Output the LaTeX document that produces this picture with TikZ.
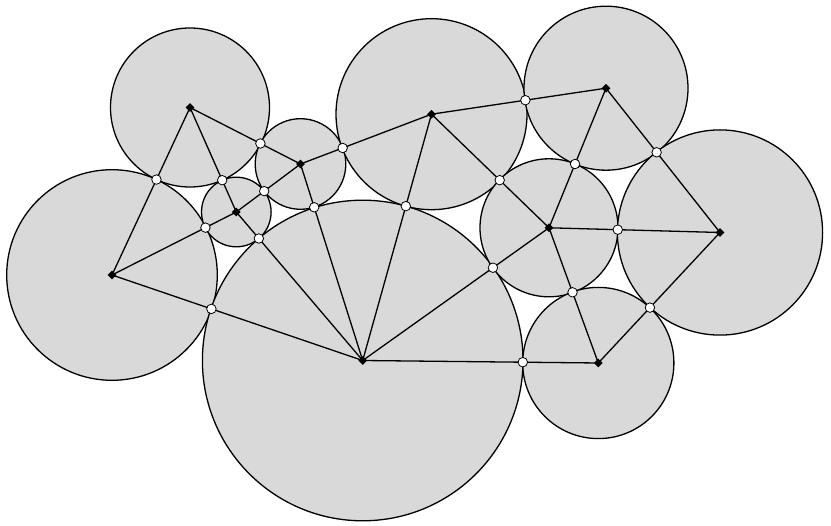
\documentclass[tikz,border=0pt]{standalone}
\usetikzlibrary{calc,shapes.geometric}
\definecolor{diskgray}{RGB}{217,217,217}
\begin{document}
\begin{tikzpicture}[x=1pt,y=-1pt,
  disk/.style={fill=diskgray,draw=black,line width=1.3pt},
  edge/.style={draw=black,line width=1.3pt},
  ctr/.style={diamond,fill=black,inner sep=0pt,minimum size=9pt},
  tp/.style={circle,fill=white,draw=black,line width=0.8pt,inner sep=0pt,minimum size=9.5pt}]
\useasboundingbox (0,0) rectangle (831,526);
% centres and radii
\def\rA{79.5}\def\rB{105.3}\def\rC{34.8}\def\rD{45.3}\def\rE{160.3}
\def\rF{95.5}\def\rG{82}\def\rH{69}\def\rI{102.6}\def\rJ{75.6}
\coordinate (c1) at (190,107.5);
\coordinate (c2) at (112,275);
\coordinate (c3) at (236.3,212);
\coordinate (c4) at (300.5,164);
\coordinate (c5) at (362.7,360.5);
\coordinate (c6) at (431.5,114.2);
\coordinate (c7) at (606,88.2);
\coordinate (c8) at (549,227.8);
\coordinate (c9) at (720,232.5);
\coordinate (c10) at (598.3,363);
% disks
\draw[disk] (c1) circle[radius=\rA];
\draw[disk] (c2) circle[radius=\rB];
\draw[disk] (c3) circle[radius=\rC];
\draw[disk] (c4) circle[radius=\rD];
\draw[disk] (c5) circle[radius=\rE];
\draw[disk] (c6) circle[radius=\rF];
\draw[disk] (c7) circle[radius=\rG];
\draw[disk] (c8) circle[radius=\rH];
\draw[disk] (c9) circle[radius=\rI];
\draw[disk] (c10) circle[radius=\rJ];
% edges
\draw[edge] (c1) -- (c2);
\draw[edge] (c1) -- (c3);
\draw[edge] (c1) -- (c4);
\draw[edge] (c2) -- (c3);
\draw[edge] (c2) -- (c5);
\draw[edge] (c3) -- (c4);
\draw[edge] (c3) -- (c5);
\draw[edge] (c4) -- (c5);
\draw[edge] (c4) -- (c6);
\draw[edge] (c6) -- (c5);
\draw[edge] (c6) -- (c7);
\draw[edge] (c6) -- (c8);
\draw[edge] (c5) -- (c8);
\draw[edge] (c5) -- (c10);
\draw[edge] (c7) -- (c8);
\draw[edge] (c7) -- (c9);
\draw[edge] (c8) -- (c9);
\draw[edge] (c8) -- (c10);
\draw[edge] (c9) -- (c10);
% centre markers
\foreach \i in {1,...,10} \node[ctr] (m\i) at (c\i) {};
% tangency points
\node[tp] (t12) at ($(c1)!{\rA/(\rA+\rB)}!(c2)$) {};
\node[tp] (t13) at ($(c1)!{\rA/(\rA+\rC)}!(c3)$) {};
\node[tp] (t14) at ($(c1)!{\rA/(\rA+\rD)}!(c4)$) {};
\node[tp] (t23) at ($(c2)!{\rB/(\rB+\rC)}!(c3)$) {};
\node[tp] (t25) at ($(c2)!{\rB/(\rB+\rE)}!(c5)$) {};
\node[tp] (t34) at ($(c3)!{\rC/(\rC+\rD)}!(c4)$) {};
\node[tp] (t35) at ($(c3)!{\rC/(\rC+\rE)}!(c5)$) {};
\node[tp] (t45) at ($(c4)!{\rD/(\rD+\rE)}!(c5)$) {};
\node[tp] (t46) at ($(c4)!{\rD/(\rD+\rF)}!(c6)$) {};
\node[tp] (t56) at ($(c5)!{\rE/(\rE+\rF)}!(c6)$) {};
\node[tp] (t67) at ($(c6)!{\rF/(\rF+\rG)}!(c7)$) {};
\node[tp] (t68) at ($(c6)!{\rF/(\rF+\rH)}!(c8)$) {};
\node[tp] (t58) at ($(c5)!{\rE/(\rE+\rH)}!(c8)$) {};
\node[tp] (t510) at ($(c5)!{\rE/(\rE+\rJ)}!(c10)$) {};
\node[tp] (t78) at ($(c7)!{\rG/(\rG+\rH)}!(c8)$) {};
\node[tp] (t79) at ($(c7)!{\rG/(\rG+\rI)}!(c9)$) {};
\node[tp] (t89) at ($(c8)!{\rH/(\rH+\rI)}!(c9)$) {};
\node[tp] (t810) at ($(c8)!{\rH/(\rH+\rJ)}!(c10)$) {};
\node[tp] (t910) at ($(c9)!{\rI/(\rI+\rJ)}!(c10)$) {};
\end{tikzpicture}
\end{document}
